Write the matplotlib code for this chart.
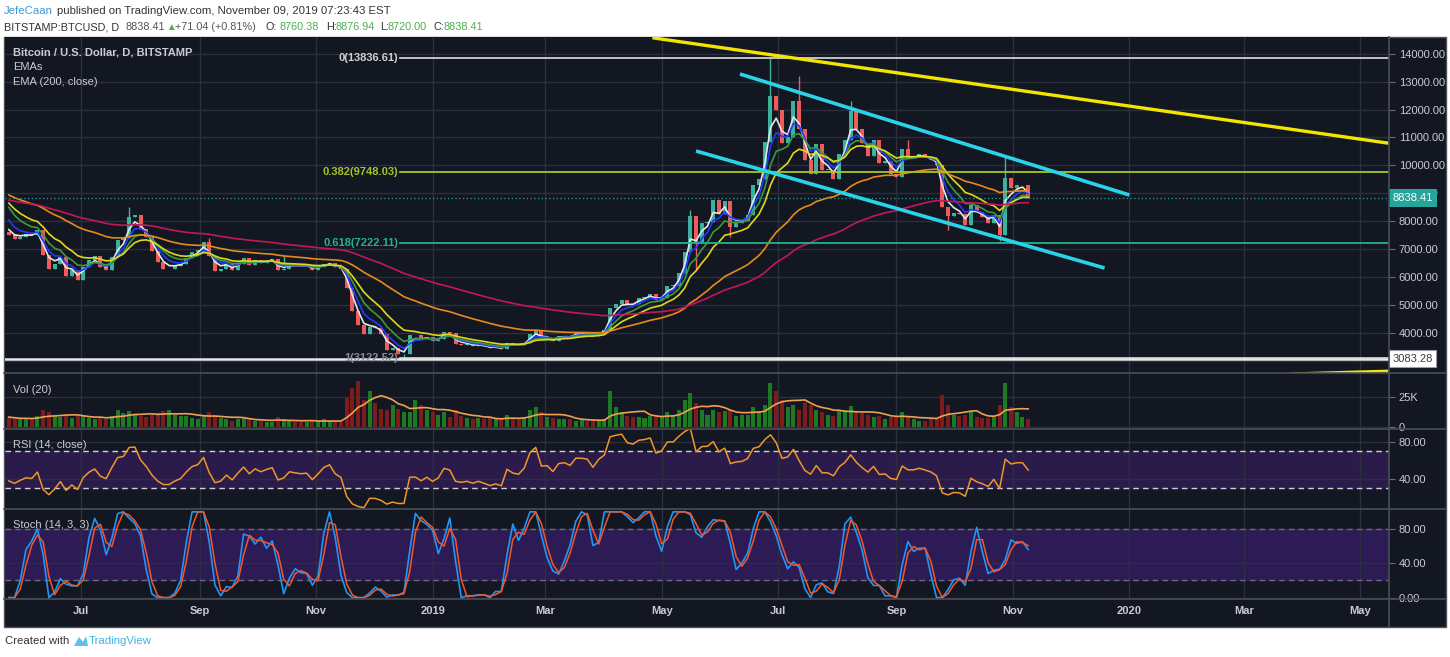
import numpy as np
import matplotlib
matplotlib.use("Agg")
import matplotlib.pyplot as plt
import matplotlib.dates as mdates
import matplotlib.transforms as mtransforms
from matplotlib.patches import Rectangle, Polygon
from matplotlib.lines import Line2D

plt.rcParams['font.family'] = ['Liberation Sans', 'DejaVu Sans']

W, H = 1450, 657

# =========================================
# Data (3-day bars, BITSTAMP:BTCUSD)
# =========================================

start_date = np.datetime64('2018-05-24')
step_days = 3
first_open = 7600.0

closes = [
    7500, 7350, 7450, 7530, 7500, 7680, 6780, 6300, 6480, 6730, 6050, 6250, 5880,
    6350, 6600, 6750, 6380, 6250, 6730, 7320, 7400, 8170, 8220, 7730,
    7420, 6950, 6540, 6280, 6280, 6400, 6480, 6700, 6900, 6970,
    7270, 6750, 6230, 6280, 6480, 6260, 6480, 6700, 6450, 6620,
    6520, 6590, 6640, 6250, 6300, 6450, 6420, 6400, 6410, 6270,
    6360, 6470, 6520, 6370, 6300,
    5600, 4800, 4300, 3950, 4200, 4180, 3960, 3400, 3450, 3250, 3250, 3930, 3940, 3770, 3870, 3700,
    3790, 4050, 4000, 3620, 3580, 3600, 3540, 3570, 3520, 3460,
    3480, 3440, 3650, 3590, 3570, 3650, 3950, 4120, 3820, 3830,
    3720, 3880, 3900, 3860, 4000, 4000, 3990, 3900, 4020, 4100,
    4900, 5050, 5180, 5050, 5030, 5250, 5300, 5400, 5190, 5270,
    5700, 5700, 6150, 6900, 8200, 7250, 7950, 7990, 8750, 8250,
    8730, 7800, 7950, 8000, 8230, 9300, 9520, 10850, 12500, 12000,
    10800, 11000, 12300, 11300, 10200, 9700, 10750, 9850, 9850, 9500,
    10400, 10900, 11950, 11300, 10800, 10350, 10900, 10100, 10150, 9700,
    9600, 10600, 10300, 10300, 10400, 10300, 10200, 10000, 8500, 8200,
    8300, 8250, 7850, 8600, 8330, 8170, 7950, 8230, 7500, 9550, 9180, 9300, 9300, 8838.41,
]

# daily volume, thousands of BTC
volumes = [
    8, 7, 6, 7, 6, 9, 14, 12, 9, 8, 10, 7, 9,
    9, 7, 6, 8, 6, 9, 14, 11, 13, 10, 9,
    8, 10, 11, 13, 14, 10, 9, 9, 7, 6,
    9, 12, 10, 7, 6, 5, 6, 7, 6, 5, 5, 4, 4, 8, 6, 5, 4, 4, 4, 5,
    5, 6, 5, 4, 4,
    24, 32, 38, 22, 30, 20, 15, 14,
    18, 15, 12, 12, 22, 18, 14, 12,
    10, 12, 8, 14, 9, 7, 6, 7, 6, 7, 6, 7, 10, 7, 6, 8, 14, 16, 12, 8,
    7, 6, 6, 6, 5, 6, 5, 5, 5, 6,
    30, 16, 12, 9, 8, 8, 7, 9, 10, 8,
    12, 9, 14, 22, 28, 20, 14, 10, 14, 12,
    13, 14, 9, 10, 10, 16, 13, 18, 36, 30,
    22, 16, 18, 14, 20, 18, 14, 12, 10, 9,
    13, 14, 17, 12, 11, 10, 8, 9, 6, 8,
    8, 12, 8, 6, 5, 5, 6, 6, 26, 18,
    10, 9, 10, 12, 8, 7, 7, 8, 18, 36, 16, 12, 8, 6,
]

# notable wicks (bar index -> price)
spike_highs = {21: 8500, 35: 7400, 48: 6800, 119: 8400, 133: 13836.61,
               138: 13200, 147: 12300, 157: 10900, 174: 10370}
spike_lows = {69: 3122.52, 120: 6300, 126: 7450, 164: 7700, 173: 7300}

ema_periods = [8, 13, 21, 34, 100, 200]
ema_seeds = [7700, 8040, 8500, 8650, 8940, 8760]
ema_colors = ['#e6e6e6', '#1f3bff', '#3c9a3c', '#e0d81a', '#e88a1a', '#c2185b']
rsi_seed = [120.0, 200.0]

fib_levels = [13836.61, 9748.03, 7222.11, 3122.52]
fib_labels = ['0(13836.61)', '0.382(9748.03)', '0.618(7222.11)', '1(3122.52)']
fib_colors = ['#d0d0d0', '#a5c526', '#22b38c', '#d0d0d0']
fib_start = '2018-12-15'
support_level = 3083.28
last_price = 8838.41

channel_upper = (['2019-06-11', '2020-01-01'], [13273, 8941])
channel_lower = (['2019-05-19', '2019-12-19'], [10516, 6327])
long_trend = (['2019-04-27', '2020-05-15'], [14562, 10803])

x_ticks = ['2018-07-01', '2018-09-01', '2018-11-01', '2019-01-01', '2019-03-01', '2019-05-01',
           '2019-07-01', '2019-09-01', '2019-11-01', '2020-01-01', '2020-03-01', '2020-05-01']
x_labels = ['Jul', 'Sep', 'Nov', '2019', 'Mar', 'May', 'Jul', 'Sep', 'Nov', '2020', 'Mar', 'May']

assert len(closes) == len(volumes)

# =========================================
# Derived series
# =========================================

n = len(closes)
c = np.array(closes, dtype=float)
o = np.r_[first_open, c[:-1]]
hi = np.maximum(o, c)
lo = np.minimum(o, c)
for k, v in spike_highs.items():
    hi[k] = v
for k, v in spike_lows.items():
    lo[k] = v

dates = start_date + np.arange(n) * step_days
xd = mdates.date2num(dates)


def ema(vals, period, seed):
    a = 1 - (1 - 2 / (period + 1)) ** step_days
    out = [seed]
    for v in vals[1:]:
        out.append(out[-1] + a * (v - out[-1]))
    return np.array(out)


emas = [ema(c, p, s) for p, s in zip(ema_periods, ema_seeds)]

# RSI on 3-day bars, slowed down a bit so it behaves like the daily one
a = 1 - (1 - 1 / 14) ** 2
ag, al = rsi_seed
rsi = [100 - 100 / (1 + ag / al)]
for i in range(1, n):
    d = c[i] - c[i - 1]
    ag += a * (max(d, 0) - ag)
    al += a * (max(-d, 0) - al)
    rsi.append(100 - 100 / (1 + ag / al))
rsi = np.array(rsi)

raw = []
for i in range(n):
    j = max(0, i - 4)
    hh, ll = hi[j:i + 1].max(), lo[j:i + 1].min()
    raw.append(100 * (c[i] - ll) / (hh - ll) if hh > ll else 50)
raw = np.array(raw)
stoch_k = np.r_[raw[0], 0.5 * (raw[1:] + raw[:-1])]
stoch_d = np.r_[stoch_k[0], 0.5 * (stoch_k[1:] + stoch_k[:-1])]

vol = np.array(volumes, dtype=float)
vol_sma = np.array([vol[max(0, i - 6):i + 1].mean() for i in range(n)])

# =========================================
# Figure
# =========================================

BG = '#131722'
GRID = '#2c303c'
TXT = '#c9ccd4'
UP = '#3bb39c'
DOWN = '#ef5a5a'

fig = plt.figure(figsize=(W / 100, H / 100), dpi=100)
fig.patch.set_facecolor('white')


def frect(left, top, right, bottom):
    return [left / W, 1 - bottom / H, (right - left) / W, (bottom - top) / H]


fig.add_artist(Rectangle((4 / W, 1 - 627 / H), 1442 / W, 590 / H, transform=fig.transFigure,
                         facecolor=BG, edgecolor='#50535e', lw=1, zorder=-5))

ax_p = fig.add_axes(frect(5, 37, 1389, 373))
ax_v = fig.add_axes(frect(5, 373, 1389, 429), sharex=ax_p)
ax_r = fig.add_axes(frect(5, 429, 1389, 509), sharex=ax_p)
ax_s = fig.add_axes(frect(5, 509, 1389, 599), sharex=ax_p)

xmin = mdates.date2num(np.datetime64('2018-05-22'))
xmax = mdates.date2num(np.datetime64('2020-05-16'))
xt = mdates.date2num(np.array(x_ticks, dtype='datetime64[D]'))

for ax in (ax_p, ax_v, ax_r, ax_s):
    ax.set_facecolor(BG)
    for s in ax.spines.values():
        s.set_visible(False)
    ax.yaxis.tick_right()
    ax.tick_params(axis='y', colors='#6a6d78', labelcolor=TXT, length=4, width=0.8,
                   labelsize=8, pad=3)
    ax.tick_params(axis='x', length=0, labelbottom=False)
    ax.set_xticks(xt)
    ax.grid(True, color=GRID, lw=1)
    ax.set_axisbelow(True)
ax_p.set_xlim(xmin, xmax)

# ---- price panel
ax_p.set_ylim(2568, 14598)
ax_p.set_yticks(np.arange(4000, 14001, 1000))
ax_p.yaxis.set_major_formatter(matplotlib.ticker.FormatStrFormatter('%.2f'))
ax_p.set_yticks(np.arange(3000, 14001, 1000), minor=True)
ax_p.grid(True, which='minor', axis='y', color=GRID, lw=1)
ax_p.tick_params(axis='y', which='minor', length=0)

cols = np.where(c >= o, UP, DOWN)
ax_p.vlines(xd, lo, hi, colors=cols, lw=1, zorder=2)
ax_p.bar(xd, np.maximum(np.abs(c - o), 15), bottom=np.minimum(o, c), width=2.1,
         color=cols, edgecolor='none', zorder=2)

for e, col in zip(emas, ema_colors):
    ax_p.plot(xd, e, color=col, lw=1.2, zorder=3)

fs = mdates.date2num(np.datetime64(fib_start))
lbl_tr = mtransforms.blended_transform_factory(fig.transFigure, ax_p.transData)
for lvl, lab, col in zip(fib_levels, fib_labels, fib_colors):
    ax_p.plot([fs, xmax], [lvl, lvl], color=col, lw=1.3, zorder=4)
    ax_p.text(398 / W, lvl, lab, transform=lbl_tr, ha='right', va='center', fontsize=8,
              fontweight='bold', color=col if lab[0] != '1' else '#8a8d96', zorder=5)
ax_p.axhline(support_level, color='#e8e8e8', lw=1.8, zorder=4)
ax_p.axhline(last_price, color='#26a69a', lw=0.9, ls=(0, (1, 2)), zorder=4)

for (d0, p0) in (channel_upper, channel_lower):
    ax_p.plot(mdates.date2num(np.array(d0, dtype='datetime64[D]')), p0,
              color='#2ad4e8', lw=2.6, zorder=5, solid_capstyle='butt')
ax_p.plot(mdates.date2num(np.array(long_trend[0], dtype='datetime64[D]')), long_trend[1],
          color='#f2e600', lw=2.4, zorder=5)
ax_p.plot(mdates.date2num(np.array(['2020-03-26', '2020-05-15'], dtype='datetime64[D]')),
          [2540, 2640], color='#f2e600', lw=2, zorder=5, clip_on=False)

yr = mtransforms.blended_transform_factory(ax_p.transAxes, ax_p.transData)
ax_p.text(1.0025, last_price, f'{last_price:.2f}', transform=yr, ha='left', va='center',
          fontsize=8, color='white', clip_on=False, zorder=10,
          bbox=dict(boxstyle='square,pad=0.35', fc='#26a69a', ec='none'))
ax_p.text(1.0025, support_level, f'{support_level:.2f}', transform=yr, ha='left', va='center',
          fontsize=8, color='#3a3d46', clip_on=False, zorder=10,
          bbox=dict(boxstyle='square,pad=0.3', fc='white', ec='#9a9da6', lw=0.8))

ax_p.text(0.006, 0.955, 'Bitcoin / U.S. Dollar, D, BITSTAMP', transform=ax_p.transAxes,
          fontsize=8, fontweight='bold', color=TXT, va='center')
ax_p.text(0.006, 0.91, 'EMAs', transform=ax_p.transAxes, fontsize=8, color=TXT, va='center')
ax_p.text(0.006, 0.865, 'EMA (200, close)', transform=ax_p.transAxes, fontsize=8, color=TXT,
          va='center')

# ---- volume panel
ax_v.set_ylim(-1.92, 44.75)
ax_v.set_yticks([0, 25])
ax_v.set_yticklabels(['0', '25K'])
vcols = np.where(c >= o, '#1d7a22', '#7d1c1c')
ax_v.bar(xd, vol, width=2.1, color=vcols, edgecolor='none', zorder=2)
ax_v.plot(xd, vol_sma, color='#f0a050', lw=1.2, zorder=3)
ax_v.text(0.006, 0.7, 'Vol (20)', transform=ax_v.transAxes, fontsize=8, color=TXT, va='center')

# ---- RSI panel
ax_r.set_ylim(6.6, 94.7)
ax_r.set_yticks([40, 80])
ax_r.yaxis.set_major_formatter(matplotlib.ticker.FormatStrFormatter('%.2f'))
ax_r.axhspan(30, 70, color='#2a1b4a', zorder=0)
for lv in (30, 70):
    ax_r.axhline(lv, color='#cfcfd4', lw=1, ls=(0, (4, 3)), zorder=1)
ax_r.plot(xd, rsi, color='#f0962a', lw=1.1, zorder=3)
ax_r.text(0.006, 0.8, 'RSI (14, close)', transform=ax_r.transAxes, fontsize=8, color=TXT,
          va='center')

# ---- Stoch panel
ax_s.set_ylim(-1.6, 103.3)
ax_s.set_yticks([0, 40, 80])
ax_s.yaxis.set_major_formatter(matplotlib.ticker.FormatStrFormatter('%.2f'))
ax_s.axhspan(20, 80, color='#2d1b55', zorder=0)
for lv in (20, 80):
    ax_s.axhline(lv, color='#6a6d78', lw=1, ls=(0, (4, 3)), zorder=1)
ax_s.plot(xd, stoch_k, color='#2196f3', lw=1.2, zorder=3)
ax_s.plot(xd, stoch_d, color='#f4562a', lw=1.1, zorder=4)
ax_s.text(0.006, 0.82, 'Stoch (14, 3, 3)', transform=ax_s.transAxes, fontsize=8, color=TXT,
          va='center')
ax_s.tick_params(axis='x', labelbottom=True, labelcolor=TXT, labelsize=8, pad=5)
ax_s.set_xticklabels(x_labels, fontweight='bold')

# panel separators
for yy in (373, 429, 509, 599):
    fig.add_artist(Line2D([4 / W, 1446 / W], [1 - yy / H] * 2, color='#4a4e59', lw=1.2))
fig.add_artist(Line2D([1389 / W] * 2, [1 - 37 / H, 1 - 627 / H], color='#4a4e59', lw=1.2))

# =========================================
# Header / footer
# =========================================

def ftxt(x, y, s, **kw):
    kw.setdefault('fontsize', 8.2)
    kw.setdefault('color', '#333333')
    fig.text(x / W, 1 - y / H, s, va='center', ha='left', **kw)


GREEN = '#4caf50'
ftxt(4, 11, 'JefeCaan', color='#3a9ad9')
ftxt(57, 11, 'published on TradingView.com, November 09, 2019 07:23:43 EST')
ftxt(4, 27, 'BITSTAMP:BTCUSD, D', fontsize=7.8)
ftxt(126, 27, '8838.41', color='#555555', fontsize=7.8)
ftxt(166, 27, '\u25B2', color=GREEN, fontsize=7)
ftxt(175, 27, '+71.04 (+0.81%)', color='#555555', fontsize=7.8)
ftxt(265, 27, 'O:', fontsize=7.8)
ftxt(279, 27, '8760.38', color=GREEN, fontsize=7.8)
ftxt(326, 27, 'H:', fontsize=7.8)
ftxt(336, 27, '8876.94', color=GREEN, fontsize=7.8)
ftxt(380, 27, 'L:', fontsize=7.8)
ftxt(388, 27, '8720.00', color=GREEN, fontsize=7.8)
ftxt(433, 27, 'C:', fontsize=7.8)
ftxt(444, 27, '8838.41', color=GREEN, fontsize=7.8)

ftxt(5, 641, 'Created with')
fig.add_artist(Polygon([(74 / W, 1 - 646 / H), (79 / W, 1 - 637 / H), (83 / W, 1 - 642 / H),
                        (86 / W, 1 - 636 / H), (88 / W, 1 - 646 / H)],
                       closed=True, transform=fig.transFigure, fc='#5bc0eb', ec='none'))
ftxt(89, 641, 'TradingView', color='#3bb3e4')

fig.savefig('out.png', dpi=100, facecolor='white')
